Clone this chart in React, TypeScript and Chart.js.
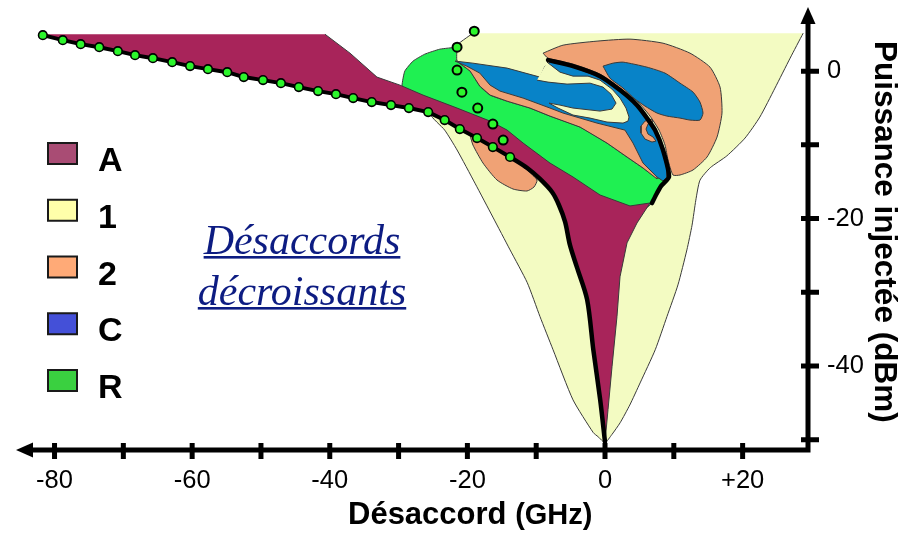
import React, { useEffect, useRef } from 'react';
import { Chart, registerables } from 'chart.js';

Chart.register(...registerables);

// ---------- axes ----------
const xMin = -85.6, xMax = 29.5;
const yMin = -51.4, yMax = 8.7;
const xTickValues = [-80, -70, -60, -50, -40, -30, -20, -10, 0, 10, 20];
const xLabelValues = [-80, -60, -40, -20, 0, 20];
const yTickValues = [-50, -40, -30, -20, -10, 0];
const yLabelValues = [-40, -20, 0];

const xTitleMain = 'Désaccord';
const xTitleUnit = '(GHz)';
const yTitleMain = 'Puissance injectée';
const yTitleUnit = '(dBm)';
const annotationLines = ['Désaccords', 'décroissants'];

// ---------- legend ----------
const legendLabels = ['A', '1', '2', 'C', 'R'];
const legendColors = ['#a94c74', '#ffffaa', '#ffaa77', '#4450d8', '#3ad040'];

// ---------- lock boundary with markers (GHz, dBm) ----------
const lockGHz = [-81.7, -78.8, -76.2, -73.5, -70.8, -68.3, -65.7, -62.9, -60.3, -57.7, -54.9, -52.5, -49.7, -47.1, -44.5, -41.7, -39.1, -36.6, -33.9, -31.1, -28.5, -25.7, -23.3, -21.1, -18.6, -16.3, -13.8];
const lockDBm = [4.88, 4.2, 3.66, 3.25, 2.71, 2.17, 1.76, 1.22, 0.68, 0.27, -0.14, -0.81, -1.22, -1.63, -2.17, -2.71, -3.12, -3.66, -4.2, -4.61, -5.01, -5.56, -6.64, -7.86, -9.08, -10.3, -11.65];

// continuation of the lock boundary (thick line)
const boundaryGHz = [-13.8, -11.3, -9.45, -7.7, -6.7, -5.8, -5.1, -4.1, -2.6, -1.7, -0.7, 0];
const boundaryDBm = [-11.65, -13.14, -14.63, -16.4, -18.16, -20.46, -23.58, -26.56, -31.0, -37.8, -44.6, -50.3];

// right thick boundary
const rightGHz = [-8.28, -4.65, -0.73, 2.18, 4.65, 6.1, 7.27, 8.43, 9.3, 8.14, 7.41, 6.83];
const rightDBm = [1.49, 0.68, -0.68, -2.57, -4.61, -6.37, -8.0, -10.7, -14.36, -15.6, -16.8, -17.9];

// second marker chain
const chainGHz = [-14.8, -16.3, -18.5, -20.8, -21.5, -21.5, -19.0];
const chainDBm = [-9.35, -7.18, -5.01, -2.85, 0.14, 3.25, 5.42];

// ---------- regions (outlines, GHz / dBm) ----------
// A : upper/right edge (lower-left edge is the lock boundary)
const regionA_GHz = [-81.7, -40.7, -37.06, -33.14, -29.8, -26.45, -21.5, -16.7, -14.24, -11.9, -8.0, -4.65, -0.73, 3.63, 6.54, 4.65, 3.2, 2.18, 1.74, 1.02, 0.44, 0];
const regionA_dBm = [5.01, 5.01, 2.44, -0.81, -1.9, -3.25, -5.01, -6.78, -7.99, -9.76, -12.47, -14.36, -16.8, -18.29, -17.89, -20.6, -23.3, -27.9, -33.3, -40.1, -45.9, -50.3];

// 1 : large envelope
const region1_GHz = [28.8, 26.9, 24.7, 22.5, 20.35, 17.7, 15.3, 13.8, 13.2, 12.65, 11.9, 10.6, 9.0, 7.3, 5.1, 3.6, 2.2, 1.0, 0, -1.0, -1.7, -4.65, -7.55, -9.45, -11.3, -13.8, -16.3, -18.9, -21.5, -23.3, -25.4, -24.0, -22.8, -21.8, -19.2];
const region1_dBm = [5.15, 1.76, -2.3, -6.23, -9.08, -11.5, -13.1, -14.8, -17.5, -20.9, -24.25, -29.0, -33.3, -37.8, -42.3, -45.3, -47.7, -49.3, -50.4, -49.6, -49.05, -44.6, -37.8, -33.3, -28.7, -24.25, -19.8, -15.2, -10.7, -8.0, -5.8, -3.9, 0.14, 3.25, 5.15];

// R : green region
const regionR_GHz = [-21.5, -24.0, -26.2, -27.9, -29.1, -29.5, -29.2, -26.45, -21.5, -16.7, -12.8, -10.2, -6.1, -1.16, 3.63, 5.96, 6.83, 7.41, 8.14, 9.0, 7.56, 5.52, 3.2, 0.29, -3.63, -8.0, -10.9, -14.24, -16.7, -18.2, -19.6, -21.5, -21.5];
const regionR_dBm = [3.25, 2.98, 2.3, 1.36, 0, -1.9, -2.57, -3.66, -5.56, -7.32, -9.62, -11.79, -14.5, -17.2, -18.83, -18.56, -17.9, -16.8, -15.6, -14.5, -14.5, -13.14, -11.65, -9.76, -7.59, -6.1, -5.01, -4.07, -3.25, -2.03, 0, 1.36, 3.25];

// 2 : strip under the C finger
const region2strip_GHz = [-21.5, -19.6, -18.2, -16.7, -14.24, -10.9, -8.0, -3.63, 0.29, 3.2, 5.52, 7.56, 7.56, 5.52, 4.07, 2.9, -1.16, -6.1, -11.9, -15.26, -16.7, -18.2, -20.1, -21.5];
const region2strip_dBm = [1.36, 0, -2.03, -3.25, -4.07, -5.01, -6.1, -7.59, -9.76, -11.65, -13.14, -14.63, -14.09, -12.06, -9.35, -7.59, -6.5, -5.15, -3.25, -2.3, -1.49, 0.14, 0.95, 1.36];

// 2 : large right lobe
const region2big_GHz = [-9.0, -6.1, -1.16, 3.63, 8.43, 12.35, 15.26, 16.72, 17.0, 16.28, 14.83, 12.79, 10.9, 9.88, 9.16, 8.72, 7.85, 6.54, 4.8, 2.18, -0.73, -4.65, -8.28, -9.0];
const region2big_dBm = [2.44, 3.52, 4.07, 4.34, 3.79, 2.44, 0.54, -2.17, -5.69, -8.94, -11.65, -13.41, -14.09, -14.09, -12.06, -10.03, -8.0, -6.1, -4.2, -2.3, -0.41, 0.95, 1.76, 2.44];

// 2 : lower-left lobe
const region2low_GHz = [-19.62, -19.19, -17.73, -15.7, -13.37, -11.34, -10.32, -9.88, -11.34, -13.81, -16.28, -18.6, -19.62];
const region2low_dBm = [-8.67, -10.03, -12.47, -14.77, -15.99, -16.26, -15.72, -14.77, -13.41, -11.65, -10.3, -9.08, -8.67];

// 2 : small crescent
const region2small_GHz = [6.83, 5.81, 5.23, 5.23, 5.81, 6.83, 7.41, 6.98, 6.25, 5.96, 6.25, 6.98, 6.83];
const region2small_dBm = [-6.5, -6.78, -7.45, -8.4, -9.22, -9.62, -9.49, -8.94, -8.54, -7.86, -7.18, -6.91, -6.5];

// C : main region
const regionC_GHz = [-21.8, -19.2, -14.24, -9.45, -8.72, -7.85, -4.65, -0.73, 2.18, 4.65, 6.1, 7.27, 8.43, 9.0, 9.0, 8.43, 7.56, 5.52, 4.07, 2.9, -1.16, -6.1, -8.0, -11.9, -15.26, -16.7, -18.2, -20.1, -21.8];
const regionC_dBm = [1.36, 1.08, 0.41, -0.81, 0.68, 1.36, 0.54, -0.81, -2.71, -4.74, -6.5, -8.13, -10.84, -13.41, -14.36, -14.91, -14.36, -12.47, -9.76, -8.0, -7.05, -5.69, -5.01, -3.66, -2.71, -1.9, -0.27, 0.68, 1.36];

// C : right inner lobe
const regionCright_GHz = [-0.29, 1.16, 2.62, 6.1, 8.72, 10.9, 12.8, 13.8, 14.24, 13.8, 12.35, 10.9, 9.0, 7.56, 5.81, 4.36, 2.62, 0.73, -0.29];
const regionCright_dBm = [0.68, 1.08, 1.22, 0.54, -0.27, -1.63, -2.85, -4.2, -5.69, -6.64, -6.64, -6.37, -6.1, -5.69, -4.74, -3.79, -2.3, -0.95, 0.68];

// 1 : channel of region 1 inside C (open on its left end)
const region1inner_GHz = [-8.43, -6.54, -4.65, -2.47, -0.73, 1.02, 2.18, 3.05, 3.49, 3.34, 2.62, 0.29, -2.18, -4.65, -6.83, -8.14, -6.54, -4.65, -0.73, 1.02, 1.6, 0.87, -0.29, -2.18, -5.52, -8.28, -9.88];
const region1inner_dBm = [1.22, -0.14, -0.68, -0.68, -1.22, -2.44, -3.66, -5.01, -6.23, -6.78, -7.05, -6.91, -6.37, -5.96, -5.01, -4.34, -4.61, -5.01, -5.42, -5.15, -4.34, -3.12, -2.17, -1.63, -1.76, -1.49, -1.22];

// ---------- colours ----------
const colA = '#a8245a';
const col1 = '#f3fbc2';
const col2 = '#f0a275';
const colC = '#0883c8';
const colR = '#1ff052';
const outline = '#3a3a3a';
const markerFill = '#2cf52c';

const pts = (xs: number[], ys: number[]) => xs.map((x, i) => ({ x, y: ys[i] }));

const FONT_SANS = '"Liberation Sans", Arial, Helvetica, sans-serif';
const FONT_SERIF = '"Liberation Serif", "Times New Roman", serif';

const axesPlugin = {
  id: 'arrowAxes',
  afterDatasetsDraw(chart: any) {
    const { ctx, chartArea, scales } = chart;
    const xs = scales.x, ys = scales.y;
    const L = chartArea.left, R = chartArea.right, T = chartArea.top, B = chartArea.bottom;
    ctx.save();
    ctx.strokeStyle = '#000';
    ctx.fillStyle = '#000';
    ctx.lineCap = 'butt';
    ctx.lineWidth = 5;
    ctx.beginPath();
    ctx.moveTo(L + 12, B);
    ctx.lineTo(R + 2.5, B);
    ctx.moveTo(R, B + 2.5);
    ctx.lineTo(R, T + 12);
    ctx.stroke();
    ctx.beginPath();
    ctx.moveTo(L, B);
    ctx.lineTo(L + 17, B - 7.5);
    ctx.lineTo(L + 17, B + 7.5);
    ctx.closePath();
    ctx.fill();
    ctx.beginPath();
    ctx.moveTo(R, T);
    ctx.lineTo(R - 7.5, T + 17);
    ctx.lineTo(R + 7.5, T + 17);
    ctx.closePath();
    ctx.fill();
    ctx.lineWidth = 5;
    ctx.beginPath();
    xTickValues.forEach((v) => {
      const p = xs.getPixelForValue(v);
      ctx.moveTo(p, B - 7);
      ctx.lineTo(p, B + 9);
    });
    yTickValues.forEach((v) => {
      const p = ys.getPixelForValue(v);
      ctx.moveTo(R - 7, p);
      ctx.lineTo(R + 11, p);
    });
    ctx.stroke();
    ctx.restore();
  },
};

const textPlugin = {
  id: 'figureText',
  afterDraw(chart: any) {
    const { ctx } = chart;
    ctx.save();
    ctx.textAlign = 'left';
    ctx.textBaseline = 'alphabetic';
    legendLabels.forEach((label, i) => {
      const top = 143 + i * 56.75;
      ctx.fillStyle = legendColors[i];
      ctx.fillRect(48, top, 29, 21);
      ctx.lineWidth = 2;
      ctx.strokeStyle = '#1a1a1a';
      ctx.strokeRect(48, top, 29, 21);
      ctx.fillStyle = '#000';
      ctx.font = `bold 34px ${FONT_SANS}`;
      ctx.fillText(label, 98, top + 28);
    });
    ctx.font = `italic 42px ${FONT_SERIF}`;
    ctx.fillStyle = '#0d1c82';
    ctx.textAlign = 'center';
    annotationLines.forEach((t, i) => {
      const base = 254 + i * 51;
      ctx.fillText(t, 302, base);
      const w = ctx.measureText(t).width;
      ctx.fillRect(302 - w / 2, base + 2, w, 2.6);
    });
    ctx.textAlign = 'left';
    ctx.fillStyle = '#000';
    ctx.font = `bold 31px ${FONT_SANS}`;
    const wMain = ctx.measureText(xTitleMain + ' ').width;
    ctx.fillText(xTitleMain + ' ', 348, 524);
    ctx.font = `bold 29px ${FONT_SANS}`;
    ctx.fillText(xTitleUnit, 348 + wMain, 524);
    ctx.translate(875, 41);
    ctx.rotate(Math.PI / 2);
    ctx.font = `bold 31.5px ${FONT_SANS}`;
    const wy = ctx.measureText(yTitleMain + ' ').width;
    ctx.fillText(yTitleMain + ' ', 0, 0);
    ctx.fillText(yTitleUnit, wy, 0);
    ctx.restore();
  },
};

function region(label: string, data: any[], color: string, order: number, tension = 0) {
  return {
    label,
    data,
    fill: 'shape',
    backgroundColor: color,
    borderColor: outline,
    borderWidth: 1,
    pointRadius: 0,
    tension,
    order,
  };
}

export default function App() {
  const ref = useRef<HTMLCanvasElement | null>(null);
  useEffect(() => {
    if (!ref.current) return;
    const aEdge = pts(regionA_GHz, regionA_dBm);
    const regionA = [
      ...aEdge.slice(1),
      ...pts(boundaryGHz, boundaryDBm).reverse(),
      ...pts(lockGHz, lockDBm).reverse(),
      aEdge[0],
    ];
    const close = (a: any[]) => [...a, a[0]];
    const chart = new Chart(ref.current, {
      type: 'line',
      data: {
        datasets: [
          region('1', pts(region1_GHz, region1_dBm), col1, 13, 0.2),
          region('R', pts(regionR_GHz, regionR_dBm), colR, 12, 0.15),
          region('2', close(pts(region2low_GHz, region2low_dBm)), col2, 11, 0.2),
          region('2', pts(region2strip_GHz, region2strip_dBm), col2, 10),
          region('C', pts(regionC_GHz, regionC_dBm), colC, 9),
          region('1', pts(region1inner_GHz, region1inner_dBm), col1, 8),
          region('2', pts(region2big_GHz, region2big_dBm), col2, 7, 0.2),
          region('C', pts(regionCright_GHz, regionCright_dBm), colC, 6, 0.2),
          region('2', pts(region2small_GHz, region2small_dBm), col2, 5),
          region('A', regionA, colA, 4),
          {
            label: 'right boundary',
            data: pts(rightGHz, rightDBm),
            borderColor: '#000',
            borderWidth: 4.5,
            pointRadius: 0,
            fill: false,
            tension: 0.2,
            borderJoinStyle: 'round',
            borderCapStyle: 'round',
            order: 3,
          },
          {
            label: 'boundary',
            data: pts(boundaryGHz, boundaryDBm),
            borderColor: '#000',
            borderWidth: 4.5,
            pointRadius: 0,
            fill: false,
            tension: 0.3,
            borderJoinStyle: 'round',
            borderCapStyle: 'round',
            order: 2,
          },
          {
            label: 'lock',
            data: pts(lockGHz, lockDBm),
            borderColor: '#000',
            borderWidth: 4,
            pointRadius: 4.3,
            pointBackgroundColor: markerFill,
            pointBorderColor: '#000',
            pointBorderWidth: 1.6,
            fill: false,
            tension: 0,
            borderJoinStyle: 'round',
            order: 1,
          },
          {
            label: 'chain',
            data: pts(chainGHz, chainDBm),
            showLine: false,
            pointRadius: 4.5,
            pointBackgroundColor: markerFill,
            pointBorderColor: '#000',
            pointBorderWidth: 2,
            fill: false,
            order: 0,
          },
        ] as any,
      },
      options: {
        animation: false,
        responsive: true,
        maintainAspectRatio: false,
        events: [],
        layout: { padding: { left: 16, top: 7, right: 0, bottom: 0 } },
        plugins: {
          legend: { display: false },
          tooltip: { enabled: false },
          title: { display: false },
        },
        scales: {
          x: {
            type: 'linear',
            position: 'bottom',
            min: xMin,
            max: xMax,
            afterBuildTicks: (s: any) => {
              s.ticks = xTickValues.map((v) => ({ value: v }));
            },
            afterFit: (s: any) => {
              s.height = 86;
              s.paddingLeft = 0;
              s.paddingRight = 0;
            },
            grid: { display: false, drawTicks: false },
            border: { display: false },
            ticks: {
              autoSkip: false,
              maxRotation: 0,
              padding: 16,
              color: '#000',
              font: { family: FONT_SANS, size: 25.5 },
              callback: (v: any) => (xLabelValues.includes(v) ? (v > 0 ? '+' + v : String(v)) : ''),
            },
          },
          y: {
            type: 'linear',
            position: 'right',
            min: yMin,
            max: yMax,
            afterBuildTicks: (s: any) => {
              s.ticks = yTickValues.map((v) => ({ value: v }));
            },
            afterFit: (s: any) => {
              s.width = 113;
              s.paddingTop = 0;
              s.paddingBottom = 0;
            },
            grid: { display: false, drawTicks: false },
            border: { display: false },
            ticks: {
              autoSkip: false,
              padding: 19,
              color: '#000',
              font: { family: FONT_SANS, size: 25.5 },
              callback: (v: any) => (yLabelValues.includes(v) ? String(v) : ''),
            },
          },
        },
      } as any,
      plugins: [axesPlugin, textPlugin],
    });
    return () => chart.destroy();
  }, []);
  return (
    <div style={{ position: 'fixed', left: 0, top: 0, width: 921, height: 536, background: '#fff' }}>
      <canvas ref={ref} />
    </div>
  );
}
